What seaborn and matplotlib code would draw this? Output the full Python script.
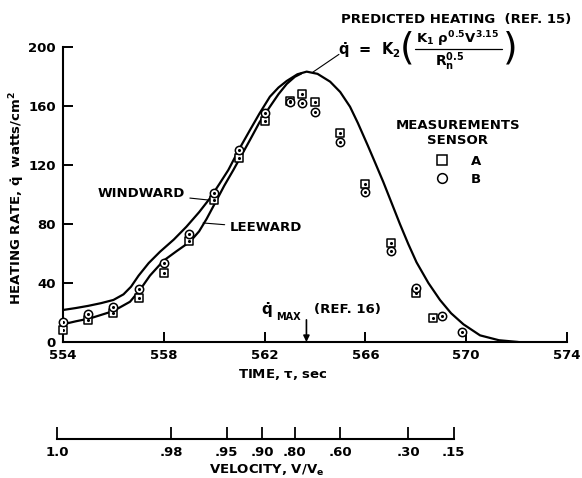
import numpy as np
import pandas as pd
import matplotlib
matplotlib.use("Agg")
import matplotlib.pyplot as plt
import seaborn as sns
from matplotlib.lines import Line2D

# ---------------- data ----------------
windward_time = [554.0, 554.5, 555.0, 555.5, 556.0, 556.4, 556.7, 557.0, 557.4, 557.85,
                 558.4, 558.9, 559.4, 559.83, 560.2, 560.56, 561.0, 561.42, 561.8, 562.21,
                 562.55, 562.88, 563.3, 563.67, 564.1, 564.6, 565.0, 565.39, 565.7, 566.1,
                 566.4, 566.71, 567.0, 567.37, 567.7, 568.03, 568.5, 568.96, 569.4, 569.89,
                 570.55, 571.3, 572.07]
windward_q = [21.7, 23.0, 24.5, 26.3, 28.5, 32.3, 37.5, 45.0, 53.5, 61.2,
              69.5, 78.2, 88.0, 97.4, 107.0, 116.6, 131.0, 143.7, 155.0, 166.3,
              172.5, 177.0, 181.5, 183.3, 181.8, 176.5, 169.5, 159.5, 148.5, 133.0,
              121.0, 108.5, 96.0, 80.0, 66.5, 54.0, 40.0, 28.5, 19.5, 12.0,
              4.5, 1.2, 0.0]
leeward_time = [554.0, 554.5, 555.07, 555.5, 556.0, 556.66, 557.06, 557.45, 557.98, 558.5,
                559.04, 559.4, 559.7, 560.1, 560.4, 560.76, 561.0, 561.42, 561.8, 562.21,
                562.55, 562.88, 563.2, 563.45]
leeward_q = [12.0, 14.0, 16.0, 18.3, 21.0, 27.3, 35.5, 45.0, 55.0, 61.5,
             68.0, 75.0, 83.5, 96.3, 106.0, 116.6, 124.0, 137.0, 149.0, 159.5,
             168.0, 175.0, 179.8, 182.0]

sensor_a_time = [554, 555, 556, 557, 558, 559, 560, 561, 562, 563, 563.5, 564, 565, 566,
                 567, 568, 568.7]
sensor_a_q = [8.0, 15.0, 20.0, 30.0, 47.0, 68.5, 96.0, 124.5, 150.0, 163.6, 168.0, 163.0,
              141.5, 107.0, 67.3, 33.0, 16.0]
sensor_b_time = [554, 555, 556, 557, 558, 559, 560, 561, 562, 563, 563.5, 564, 565, 566,
                 567, 568, 569.05, 569.85]
sensor_b_q = [13.8, 19.0, 23.5, 36.0, 53.3, 73.0, 100.8, 130.0, 155.0, 163.0, 162.3, 156.0,
              135.8, 101.5, 61.7, 36.4, 17.6, 6.6]

time_ticks = [554, 558, 562, 566, 570, 574]
q_ticks = [0, 40, 80, 120, 160, 200]
velocity_labels = ["1.0", ".98", ".95", ".90", ".80", ".60", ".30", ".15"]
velocity_tick_time = [553.76, 558.3, 560.5, 561.9, 563.2, 565.0, 567.7, 569.5]
t_qmax = 563.66

# ---------------- style ----------------
sns.set_style("ticks")
plt.rcParams["font.family"] = ["DejaVu Sans"]
plt.rcParams["font.weight"] = "bold"
for k in ["text.color", "axes.labelcolor", "xtick.color", "ytick.color", "axes.edgecolor"]:
    plt.rcParams[k] = "black"
plt.rcParams["mathtext.fontset"] = "custom"
plt.rcParams["mathtext.rm"] = "DejaVu Sans:bold"
plt.rcParams["mathtext.it"] = "DejaVu Sans:bold"
plt.rcParams["mathtext.bf"] = "DejaVu Sans:bold"
plt.rcParams["mathtext.sf"] = "DejaVu Sans:bold"

W, H = 582, 478
FS = 9.5


def px(x, y):
    return x / W, 1 - y / H


fig = plt.figure(figsize=(W / 100, H / 100), dpi=100)
fig.patch.set_facecolor("white")
ax = fig.add_axes([63 / W, 1 - 342 / H, 504 / W, 295 / H])

curves = pd.concat([
    pd.DataFrame({"time": windward_time, "q": windward_q, "side": "windward"}),
    pd.DataFrame({"time": leeward_time, "q": leeward_q, "side": "leeward"}),
])
sns.lineplot(data=curves, x="time", y="q", hue="side",
             palette={"windward": "black", "leeward": "black"},
             estimator=None, sort=False, legend=False, lw=1.6, ax=ax)

meas_a = pd.DataFrame({"time": sensor_a_time, "q": sensor_a_q})
meas_b = pd.DataFrame({"time": sensor_b_time, "q": sensor_b_q})
sns.scatterplot(data=meas_a, x="time", y="q", marker="s", s=40, facecolor="white",
                edgecolor="black", linewidth=1.1, legend=False, ax=ax, zorder=3, clip_on=False)
sns.scatterplot(data=meas_b, x="time", y="q", marker="o", s=36, facecolor="white",
                edgecolor="black", linewidth=1.1, legend=False, ax=ax, zorder=4, clip_on=False)
ax.scatter(sensor_a_time, sensor_a_q, s=1.5, color="black", zorder=5)
ax.scatter(sensor_b_time, sensor_b_q, s=1.5, color="black", zorder=5)

ax.set_xlim(554, 574)
ax.set_ylim(0, 200)
ax.set_xticks(time_ticks)
ax.set_yticks(q_ticks)
ax.set_xlabel("")
ax.set_ylabel("")
ax.tick_params(direction="in", length=7, width=1.4, labelsize=FS, pad=5, color="black",
               labelcolor="black")
for lab in ax.get_xticklabels() + ax.get_yticklabels():
    lab.set_fontweight("bold")
sns.despine(ax=ax)
for sp in ["left", "bottom"]:
    ax.spines[sp].set_linewidth(1.5)
    ax.spines[sp].set_color("black")
ax.patch.set_alpha(0)

# axis titles
fig.text(*px(17, 198), r"HEATING RATE, $\dot{q}$  watts/cm$^2$", rotation=90,
         ha="center", va="center", fontsize=FS, fontweight="bold")
fig.text(*px(283, 375), r"TIME, $\tau$, sec", ha="center", va="center",
         fontsize=FS, fontweight="bold")

# curve labels
ax.annotate("WINDWARD", xy=(559.75, 96.3), xytext=(558.85, 101), ha="right", va="center",
            fontsize=FS, fontweight="bold",
            arrowprops=dict(arrowstyle="-", lw=0.8, color="black", shrinkA=1, shrinkB=0))
ax.annotate("LEEWARD", xy=(559.56, 80.7), xytext=(560.6, 77.3), ha="left", va="center",
            fontsize=FS, fontweight="bold",
            arrowprops=dict(arrowstyle="-", lw=0.8, color="black", shrinkA=1, shrinkB=0))

# q max arrow
ax.annotate("", xy=(t_qmax, 0), xytext=(t_qmax, 15),
            arrowprops=dict(arrowstyle="-|>", lw=1.2, color="black", mutation_scale=9,
                            shrinkA=0, shrinkB=0))
fig.text(*px(267, 310), r"$\dot{q}$", ha="center", va="center", fontsize=11)
fig.text(*px(288, 317), "MAX", ha="center", va="center", fontsize=7, fontweight="bold")
fig.text(*px(347, 310), "(REF. 16)", ha="center", va="center", fontsize=FS, fontweight="bold")

# predicted heating label and equation
fig.text(*px(456, 20), "PREDICTED HEATING  (REF. 15)", ha="center", va="center",
         fontsize=FS, fontweight="bold")
fig.text(*px(338, 50), r"$\dot{q}$  =  K$_2$", ha="left", va="center", fontsize=10.5)
fig.text(*px(407, 48), "(", ha="center", va="center", fontsize=27, fontweight="normal")
fig.text(*px(510, 48), ")", ha="center", va="center", fontsize=27, fontweight="normal")
fig.text(*px(458, 39), r"K$_1$ $\rho^{0.5}$V$^{3.15}$", ha="center", va="center",
         fontsize=9.5)
fig.add_artist(Line2D([415 / W, 502 / W], [1 - 49 / H, 1 - 49 / H], color="black", lw=0.9))
fig.text(*px(450, 62), r"R$_n^{0.5}$", ha="center", va="center", fontsize=10)
ax.annotate("", xy=(563.92, 183), xytext=(564.95, 195),
            arrowprops=dict(arrowstyle="-", lw=0.8, color="black", shrinkA=0, shrinkB=0),
            annotation_clip=False)

# measurements legend
handles = [Line2D([], [], marker="s", ls="none", ms=7, mfc="white", mec="black", mew=1.1),
           Line2D([], [], marker="o", ls="none", ms=7, mfc="white", mec="black", mew=1.1)]
leg = fig.legend(handles, ["A", "B"], title="MEASUREMENTS\nSENSOR", frameon=False,
                 loc="upper center", bbox_to_anchor=px(458, 112), fontsize=FS,
                 title_fontsize=FS, handletextpad=1.7, labelspacing=0.35,
                 borderpad=0, handlelength=1.0)
leg.get_title().set_fontweight("bold")
leg.get_title().set_ha("center")
leg._legend_box.sep = 6
for t in leg.get_texts():
    t.set_fontweight("bold")

# velocity axis
x0 = 554 - 18 / 25.2
ax2 = fig.add_axes([45 / W, 1 - 439 / H, 522 / W, 0.0001])
ax2.set_xlim(x0, 574)
ax2.set_yticks([])
for sp in ["top", "left", "right"]:
    ax2.spines[sp].set_visible(False)
ax2.spines["bottom"].set_bounds(velocity_tick_time[0], velocity_tick_time[-1])
ax2.spines["bottom"].set_linewidth(1.5)
ax2.spines["bottom"].set_color("black")
ax2.set_xticks(velocity_tick_time)
ax2.set_xticklabels(velocity_labels, fontweight="bold")
ax2.tick_params(axis="x", direction="in", length=9, width=1.3, labelsize=FS, pad=5,
                color="black", labelcolor="black")
ax2.patch.set_alpha(0)
fig.text(*px(267, 470), r"VELOCITY, V/V$_e$", ha="center", va="center",
         fontsize=FS, fontweight="bold")

fig.savefig("out.png", dpi=100, facecolor="white")
